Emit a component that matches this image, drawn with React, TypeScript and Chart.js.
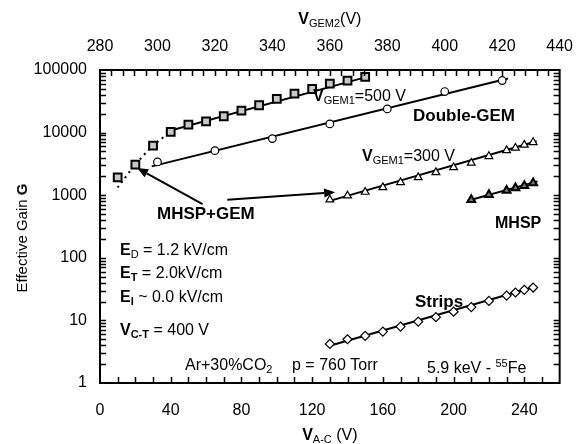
import React, { useEffect, useRef } from 'react';
import { Chart, registerables } from 'chart.js';
Chart.register(...registerables);

const FONT = '"Liberation Sans", Arial, Helvetica, sans-serif';

// Tick labels
const bottomTicks = [0, 40, 80, 120, 160, 200, 240];
const topTicks = [280, 300, 320, 340, 360, 380, 400, 420, 440];
const yTicks = [1, 10, 100, 1000, 10000, 100000];

// MHSP+GEM (squares) vs V_A-C
const mhspGemV = [10, 20, 30, 40, 50, 60, 70, 80, 90, 100, 110, 120, 130, 140, 150];
const mhspGemG = [1930, 3080, 6190, 10260, 13430, 15170, 18240, 22500, 27340, 34600, 42100, 49700, 60800, 67900, 77800];
// dotted guide through the low-voltage squares
const mhspGemDotV = [10, 20, 30, 40];
const mhspGemDotG = [1330, 3080, 6190, 10300];
// solid fit
const mhspGemFitV = [40, 152];
const mhspGemFitG = [10800, 79000];

// Double-GEM, V_GEM1 = 500 V (circles) vs V_GEM2
const dgV = [300, 320, 340, 360, 380, 400, 420];
const dgG = [3400, 5150, 8020, 13780, 23900, 45300, 67900];
const dgFitV = [298, 422];
const dgFitG = [2890, 73100];

// V_GEM1 = 300 V (open triangles) vs V_A-C
const g300V = [130, 140, 150, 160, 170, 180, 190, 200, 210, 220, 230, 235, 240, 245];
const g300G = [847, 982, 1125, 1333, 1603, 1928, 2317, 2785, 3275, 4180, 5210, 5690, 6360, 7000];
const g300FitV = [131, 247];
const g300FitG = [826, 7260];

// MHSP (filled triangles) vs V_A-C
const mhspV = [210, 220, 230, 235, 240, 245];
const mhspG = [847, 1019, 1194, 1303, 1419, 1567];
const mhspFitV = [208, 247.5];
const mhspFitG = [817, 1663];

// Strips (diamonds) vs V_A-C
const stripsV = [130, 140, 150, 160, 170, 180, 190, 200, 210, 220, 230, 235, 240, 245];
const stripsG = [4.21, 5.0, 5.65, 6.62, 7.96, 9.57, 11.25, 13.8, 16.3, 20.5, 24.9, 27.9, 30.8, 33.5];
const stripsFitV = [129.5, 246.6];
const stripsFitG = [3.91, 34.7];

// Arrows (data coordinates on V_A-C / G)
const arrow1 = { fromV: 58, fromG: 723, toV: 21, toG: 2720 };
const arrow2 = { fromV: 72, fromG: 847, toV: 133, toG: 1110 };

const pts = (xs: number[], ys: number[]) => xs.map((x, i) => ({ x, y: ys[i] }));

type Seg = { t: string; b?: boolean; s?: 'sub' | 'sup' };

function richWidth(ctx: CanvasRenderingContext2D, segs: Seg[], size: number, subSize: number) {
  let w = 0;
  for (const sg of segs) {
    const fs = sg.s ? subSize : size;
    ctx.font = `${sg.b ? 'bold ' : ''}${fs}px ${FONT}`;
    w += ctx.measureText(sg.t).width;
  }
  return w;
}

function drawRich(ctx: CanvasRenderingContext2D, x: number, y: number, segs: Seg[], size = 16, subSize = 11) {
  let cx = x;
  ctx.textAlign = 'left';
  ctx.textBaseline = 'alphabetic';
  for (const sg of segs) {
    const fs = sg.s ? subSize : size;
    ctx.font = `${sg.b ? 'bold ' : ''}${fs}px ${FONT}`;
    const dy = sg.s === 'sub' ? 3 : sg.s === 'sup' ? -6 : 0;
    ctx.fillText(sg.t, cx, y + dy);
    cx += ctx.measureText(sg.t).width;
  }
}

function drawArrow(ctx: CanvasRenderingContext2D, x1: number, y1: number, x2: number, y2: number) {
  const ang = Math.atan2(y2 - y1, x2 - x1);
  const len = 11, half = 4.5;
  const bx = x2 - len * Math.cos(ang), by = y2 - len * Math.sin(ang);
  ctx.beginPath();
  ctx.moveTo(x1, y1);
  ctx.lineTo(bx, by);
  ctx.lineWidth = 2;
  ctx.strokeStyle = '#000';
  ctx.stroke();
  ctx.beginPath();
  ctx.moveTo(x2, y2);
  ctx.lineTo(bx + half * Math.sin(ang), by - half * Math.cos(ang));
  ctx.lineTo(bx - half * Math.sin(ang), by + half * Math.cos(ang));
  ctx.closePath();
  ctx.fillStyle = '#000';
  ctx.fill();
}

const decor = {
  id: 'decor',
  afterDraw(chart: any) {
    const ctx: CanvasRenderingContext2D = chart.ctx;
    const { left, right, top, bottom } = chart.chartArea;
    const x = chart.scales.x, x2 = chart.scales.x2, y = chart.scales.y;
    ctx.save();
    ctx.strokeStyle = '#000';
    ctx.fillStyle = '#000';
    // ticks
    ctx.lineWidth = 1.5;
    ctx.beginPath();
    for (let v = 10; v < 260; v += 10) {
      const px = Math.round(x.getPixelForValue(v)) + 0.5;
      ctx.moveTo(px, bottom); ctx.lineTo(px, bottom - 6);
    }
    for (let v = 284; v < 440; v += 4) {
      const px = Math.round(x2.getPixelForValue(v)) + 0.5;
      ctx.moveTo(px, top); ctx.lineTo(px, top + 6);
    }
    for (let d = 1; d <= 10000; d *= 10) {
      for (let m = 1; m <= 9; m++) {
        const val = d * m;
        if (val === 1) continue;
        const py = Math.round(y.getPixelForValue(val)) + 0.5;
        ctx.moveTo(left, py); ctx.lineTo(left + 6, py);
        ctx.moveTo(right, py); ctx.lineTo(right - 6, py);
      }
    }
    ctx.stroke();
    // frame
    ctx.lineWidth = 2;
    ctx.strokeRect(left, top, right - left, bottom - top);

    // arrows
    drawArrow(ctx, x.getPixelForValue(arrow1.fromV), y.getPixelForValue(arrow1.fromG), x.getPixelForValue(arrow1.toV), y.getPixelForValue(arrow1.toG));
    drawArrow(ctx, x.getPixelForValue(arrow2.fromV), y.getPixelForValue(arrow2.fromG), x.getPixelForValue(arrow2.toV), y.getPixelForValue(arrow2.toG));

    ctx.fillStyle = '#000';
    // labels in plot
    drawRich(ctx, 313, 101, [{ t: 'V', b: true }, { t: 'GEM1', s: 'sub' }, { t: '=500 V' }]);
    drawRich(ctx, 413, 121, [{ t: 'Double-GEM', b: true }], 17);
    drawRich(ctx, 362, 161, [{ t: 'V', b: true }, { t: 'GEM1', s: 'sub' }, { t: '=300 V' }]);
    drawRich(ctx, 495, 228, [{ t: 'MHSP', b: true }], 16);
    drawRich(ctx, 157, 219, [{ t: 'MHSP+GEM', b: true }], 17);
    drawRich(ctx, 415, 307, [{ t: 'Strips', b: true }], 17);
    drawRich(ctx, 120, 255, [{ t: 'E', b: true }, { t: 'D', s: 'sub' }, { t: ' = 1.2 kV/cm' }]);
    drawRich(ctx, 120, 278, [{ t: 'E', b: true }, { t: 'T', s: 'sub', b: true }, { t: ' = 2.0kV/cm' }]);
    drawRich(ctx, 120, 302, [{ t: 'E', b: true }, { t: 'I', s: 'sub', b: true }, { t: ' ~ 0.0 kV/cm' }]);
    drawRich(ctx, 120, 335, [{ t: 'V', b: true }, { t: 'C-T', s: 'sub', b: true }, { t: ' = 400 V' }]);
    drawRich(ctx, 185, 370, [{ t: 'Ar+30%CO' }, { t: '2', s: 'sub' }]);
    drawRich(ctx, 292, 370, [{ t: 'p = 760 Torr' }]);
    drawRich(ctx, 427, 373, [{ t: '5.9 keV - ' }, { t: '55', s: 'sup' }, { t: 'Fe' }]);

    // axis titles
    const bt: Seg[] = [{ t: 'V', b: true }, { t: 'A-C', s: 'sub' }, { t: ' (V)' }];
    const bw = richWidth(ctx, bt, 16, 11);
    drawRich(ctx, (left + right) / 2 - bw / 2, 440, bt);
    const tt: Seg[] = [{ t: 'V', b: true }, { t: 'GEM2', s: 'sub' }, { t: '(V)' }];
    const tw = richWidth(ctx, tt, 16, 11);
    drawRich(ctx, (left + right) / 2 - tw / 2, 24, tt);

    const yt: Seg[] = [{ t: 'Effective Gain ' }, { t: 'G', b: true }];
    ctx.save();
    ctx.translate(27, 238);
    ctx.rotate(-Math.PI / 2);
    const ytSegs = yt;
    let w = 0;
    for (const sg of ytSegs) {
      ctx.font = `${sg.b ? 'bold ' : ''}15px ${FONT}`;
      w += ctx.measureText(sg.t).width;
    }
    let cx = -w / 2;
    ctx.textAlign = 'left';
    ctx.textBaseline = 'alphabetic';
    for (const sg of ytSegs) {
      ctx.font = `${sg.b ? 'bold ' : ''}15px ${FONT}`;
      ctx.fillText(sg.t, cx, 0);
      cx += ctx.measureText(sg.t).width;
    }
    ctx.restore();

    ctx.restore();
  },
};

export default function App() {
  const ref = useRef<HTMLCanvasElement>(null);
  useEffect(() => {
    document.body.style.margin = '0';
    const canvas = ref.current!;
    const tickFont = { family: FONT, size: 16 };
    const lineDs = (xs: number[], ys: number[], axis = 'x', dash: number[] = [], tension = 0) => ({
      type: 'scatter',
      data: pts(xs, ys),
      xAxisID: axis,
      showLine: true,
      borderColor: '#000',
      borderWidth: 2,
      borderDash: dash,
      pointRadius: 0,
      tension,
      order: 2,
    });
    const chart = new Chart(canvas, {
      type: 'scatter',
      data: {
        datasets: [
          lineDs(mhspGemDotV, mhspGemDotG, 'x', [2, 4], 0.3) as any,
          lineDs(mhspGemFitV, mhspGemFitG) as any,
          lineDs(dgFitV, dgFitG, 'x2') as any,
          lineDs(g300FitV, g300FitG) as any,
          lineDs(mhspFitV, mhspFitG) as any,
          lineDs(stripsFitV, stripsFitG) as any,
          {
            data: pts(mhspGemV, mhspGemG), xAxisID: 'x', pointStyle: 'rect', pointRadius: 5.5,
            pointBackgroundColor: '#c8c8c8', pointBorderColor: '#000', pointBorderWidth: 2, order: 1,
          },
          {
            data: pts(dgV, dgG), xAxisID: 'x2', pointStyle: 'circle', pointRadius: 3.8,
            pointBackgroundColor: '#fff', pointBorderColor: '#000', pointBorderWidth: 1.2, order: 1,
          },
          {
            data: pts(g300V, g300G), xAxisID: 'x', pointStyle: 'triangle', pointRadius: 4.5,
            pointBackgroundColor: '#fff', pointBorderColor: '#000', pointBorderWidth: 1.2, order: 1,
          },
          {
            data: pts(mhspV, mhspG), xAxisID: 'x', pointStyle: 'triangle', pointRadius: 4.5,
            pointBackgroundColor: '#777', pointBorderColor: '#000', pointBorderWidth: 2, order: 1,
          },
          {
            data: pts(stripsV, stripsG), xAxisID: 'x', pointStyle: 'rectRot', pointRadius: 4.5,
            pointBackgroundColor: '#fff', pointBorderColor: '#000', pointBorderWidth: 1.2, order: 1,
          },
        ],
      },
      options: {
        animation: false,
        responsive: false,
        maintainAspectRatio: false,
        layout: { padding: { left: 0, right: 27, top: 0, bottom: 0 } },
        plugins: { legend: { display: false }, tooltip: { enabled: false } },
        scales: {
          x: {
            type: 'linear', position: 'bottom', min: 0, max: 260,
            grid: { display: false, drawTicks: false }, border: { display: false },
            ticks: { font: tickFont, color: '#000', padding: 18, maxRotation: 0, autoSkip: false },
            afterBuildTicks: (s: any) => { s.ticks = bottomTicks.map((v) => ({ value: v })); },
            afterFit: (s: any) => { s.height = 61; },
          },
          x2: {
            type: 'linear', position: 'top', min: 280, max: 440,
            grid: { display: false, drawTicks: false }, border: { display: false },
            ticks: { font: tickFont, color: '#000', padding: 14, maxRotation: 0, autoSkip: false },
            afterBuildTicks: (s: any) => { s.ticks = topTicks.map((v) => ({ value: v })); },
            afterFit: (s: any) => { s.height = 70; },
          },
          y: {
            type: 'logarithmic', position: 'left', min: 1, max: 100000,
            grid: { display: false, drawTicks: false }, border: { display: false },
            ticks: { font: tickFont, color: '#000', padding: 13, autoSkip: false, callback: (v: any) => String(v) },
            afterBuildTicks: (s: any) => { s.ticks = yTicks.map((v) => ({ value: v })); },
            afterFit: (s: any) => { s.width = 100; },
          },
        },
      } as any,
      plugins: [decor],
    } as any);
    return () => chart.destroy();
  }, []);
  return (
    <div style={{ position: 'absolute', left: 0, top: 0, width: 587, height: 444, background: '#fff' }}>
      <canvas ref={ref} width={587} height={444} />
    </div>
  );
}
